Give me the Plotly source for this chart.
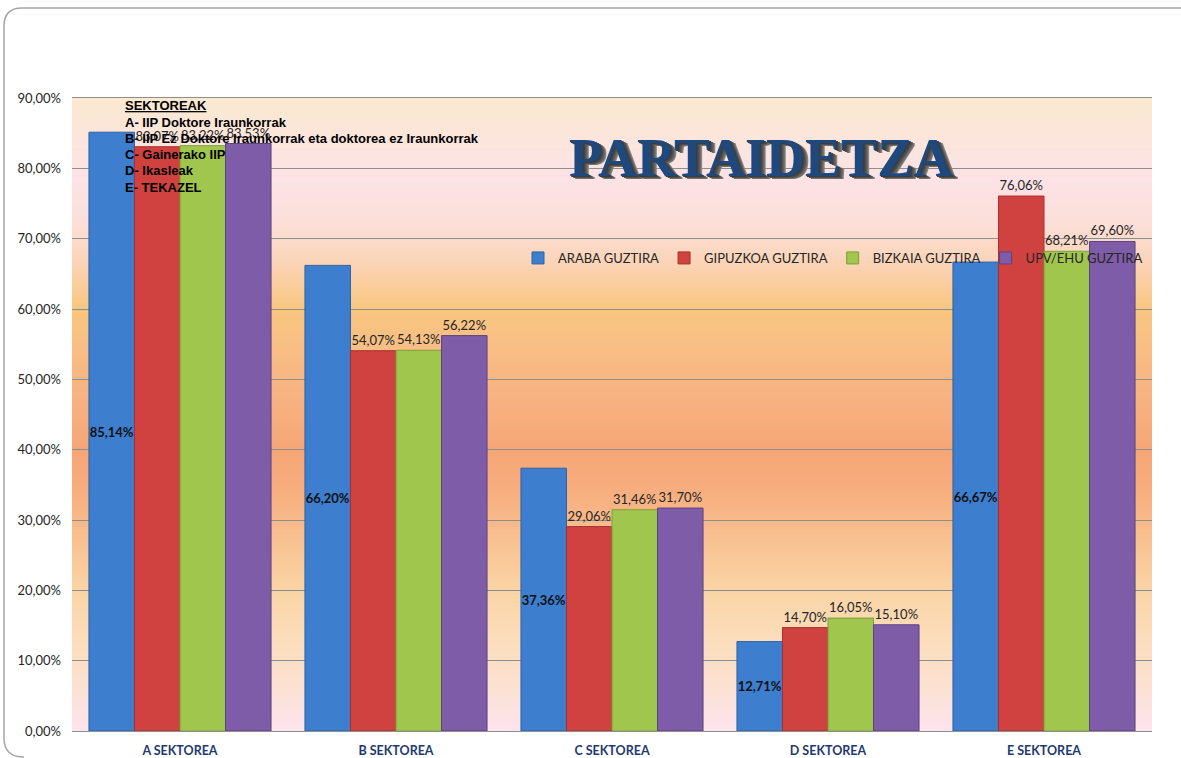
import plotly.graph_objects as go

# ---------------- data ----------------
categories = ["A SEKTOREA", "B SEKTOREA", "C SEKTOREA", "D SEKTOREA", "E SEKTOREA"]
araba = [85.14, 66.20, 37.36, 12.71, 66.67]
gipuzkoa = [83.07, 54.07, 29.06, 14.70, 76.06]
bizkaia = [83.22, 54.13, 31.46, 16.05, 68.21]
upv_ehu = [83.53, 56.22, 31.70, 15.10, 69.60]
series_names = ["ARABA GUZTIRA", "GIPUZKOA GUZTIRA", "BIZKAIA GUZTIRA", "UPV/EHU GUZTIRA"]
y_ticks = [0, 10, 20, 30, 40, 50, 60, 70, 80, 90]
y_tick_labels = ["0,00%", "10,00%", "20,00%", "30,00%", "40,00%", "50,00%",
                 "60,00%", "70,00%", "80,00%", "90,00%"]
sector_lines = [
    "<u>SEKTOREAK</u>",
    "A- IIP Doktore Iraunkorrak",
    "B- IIP Ez Doktore Iraunkorrak eta doktorea ez Iraunkorrak",
    "C- Gainerako IIP",
    "D- Ikasleak",
    "E- TEKAZEL",
]
title_text = "PARTAIDETZA"

# ---------------- style ----------------
FONT = "Lato, 'Open Sans', 'Liberation Sans', sans-serif"
BOX_FONT = "'Liberation Sans', Arial, sans-serif"
TITLE_FONT = "'Liberation Serif', 'DejaVu Serif', serif"
bar_colors = ["#3D7ECF", "#D0423F", "#A0C64D", "#7E5CA8"]
bar_lines = ["#2F62A3", "#A8302E", "#7E9E38", "#5E4282"]
bg_stops = [
    (90, (0xFB, 0xE9, 0xD0)), (84, (0xFC, 0xE5, 0xDC)), (78, (0xFD, 0xE2, 0xE6)),
    (72, (0xFC, 0xDF, 0xD8)), (66, (0xFB, 0xD3, 0xB3)), (60, (0xF9, 0xC6, 0x7F)),
    (55, (0xF8, 0xBF, 0x84)), (48, (0xF7, 0xB3, 0x82)), (40, (0xF6, 0xA6, 0x76)),
    (34, (0xF7, 0xAE, 0x7F)), (28, (0xF9, 0xBF, 0x8F)), (20, (0xFA, 0xD4, 0xA5)),
    (12, (0xFB, 0xDE, 0xBF)), (6, (0xFC, 0xE1, 0xD4)), (0, (0xFD, 0xE4, 0xEE)),
]


def bg_color(v):
    stops = sorted(bg_stops)
    for (v0, c0), (v1, c1) in zip(stops[:-1], stops[1:]):
        if v0 <= v <= v1:
            t = (v - v0) / (v1 - v0) if v1 != v0 else 0
            return "rgb(%d,%d,%d)" % tuple(round(a + (b - a) * t) for a, b in zip(c0, c1))
    return "rgb(%d,%d,%d)" % stops[-1][1]


fig = go.Figure()

all_series = [araba, gipuzkoa, bizkaia, upv_ehu]
for i, (name, vals) in enumerate(zip(series_names, all_series)):
    if i == 0:
        fig.add_trace(go.Bar(
            x=categories, y=vals, name=name,
            marker=dict(color=bar_colors[i], line=dict(color=bar_lines[i], width=1)),
            texttemplate="<b>%{y:.2f}%</b>", textposition="inside", textangle=0,
            insidetextanchor="middle", constraintext="none",
            textfont=dict(family=FONT, size=13, color="#111111"),
        ))
    else:
        fig.add_trace(go.Bar(
            x=categories, y=vals, name=name,
            marker=dict(color=bar_colors[i], line=dict(color=bar_lines[i], width=1)),
            texttemplate="%{y:.2f}%", textposition="outside", textangle=0,
            constraintext="none", cliponaxis=False,
            textfont=dict(family=FONT, size=13, color="#262626"),
        ))

# gradient background bands (slightly overlapping to avoid seams)
shapes = []
step = 0.5
n = int(90 / step)
for k in range(n):
    y0 = k * step
    shapes.append(dict(type="rect", xref="paper", yref="y", x0=0, x1=1, y0=y0,
                       y1=min(90, y0 + step + 0.35),
                       fillcolor=bg_color(y0 + step / 2), line=dict(width=0), layer="below"))

# outer rounded chart border (paper coordinates)
W, H = 1181, 758
ML, MR, MT, MB = 72, 29, 98, 27
pw, ph = W - ML - MR, H - MT - MB


def px(xp):
    return (xp - ML) / pw


def py(yp):
    return (H - MB - yp) / ph


path = ("M %f,%f Q %f,%f %f,%f L %f,%f Q %f,%f %f,%f L %f,%f" % (
    px(24), py(757), px(4), py(757), px(4), py(738),
    px(4), py(26), px(4), py(8), px(22), py(8),
    px(1200), py(8)))
shapes.append(dict(type="path", xref="paper", yref="paper", path=path,
                   line=dict(color="#A6A6A6", width=1.5), layer="above"))

annotations = []
# sector description box, one line per annotation
for k, line in enumerate(sector_lines):
    annotations.append(dict(
        xref="paper", yref="paper", x=px(123), y=py(106 + 16.2 * k),
        xanchor="left", yanchor="middle", align="left", showarrow=False,
        text="<b>%s</b>" % line,
        font=dict(family=BOX_FONT, size=13, color="#000000"),
    ))
# 3D-ish title via text shadow extrusion
annotations.append(dict(
    xref="paper", yref="paper", x=px(760), y=py(158), xanchor="center", yanchor="middle",
    showarrow=False, text=title_text,
    font=dict(family=TITLE_FONT, size=54, color="#1F497D", weight="bold",
              shadow="1px 1px 0 #3C3C3C, 2px 1px 0 #444444, 3px 2px 0 #505050, "
                     "4px 2px 0 #5E5E5E, 5px 3px 0 #707070, 6px 3px 0 #8A8A8A"),
))

fig.update_layout(
    width=W, height=H, autosize=False,
    margin=dict(l=ML, r=MR, t=MT, b=MB, pad=0),
    paper_bgcolor="#FFFFFF", plot_bgcolor="rgba(0,0,0,0)",
    separators=",.",
    barmode="group", bargap=0.157, bargroupgap=0,
    font=dict(family=FONT, size=13, color="#262626"),
    showlegend=True,
    legend=dict(orientation="h", x=px(518), y=py(258), xanchor="left", yanchor="middle",
                bgcolor="rgba(0,0,0,0)", font=dict(family=FONT, size=13, color="#262626"),
                traceorder="normal", itemwidth=30),
    shapes=shapes, annotations=annotations,
    xaxis=dict(showgrid=False, showline=True, mirror=True, linecolor="#8E8E8E", linewidth=1,
               ticks="", tickfont=dict(family=FONT, size=12.5, color="#1F3A6E", weight="bold"),
               ticklabelstandoff=8, automargin=False),
    yaxis=dict(range=[0, 90], tickvals=y_ticks, ticktext=y_tick_labels,
               showgrid=True, gridcolor="#8E8E8E", gridwidth=1, zeroline=False,
               showline=False, ticks="", tickfont=dict(family=FONT, size=13, color="#262626"),
               ticklabelstandoff=10, automargin=False),
)

fig.write_html("out.html", config={"displayModeBar": False},
               post_script="document.body.style.margin='0';document.body.style.overflow='hidden';")
